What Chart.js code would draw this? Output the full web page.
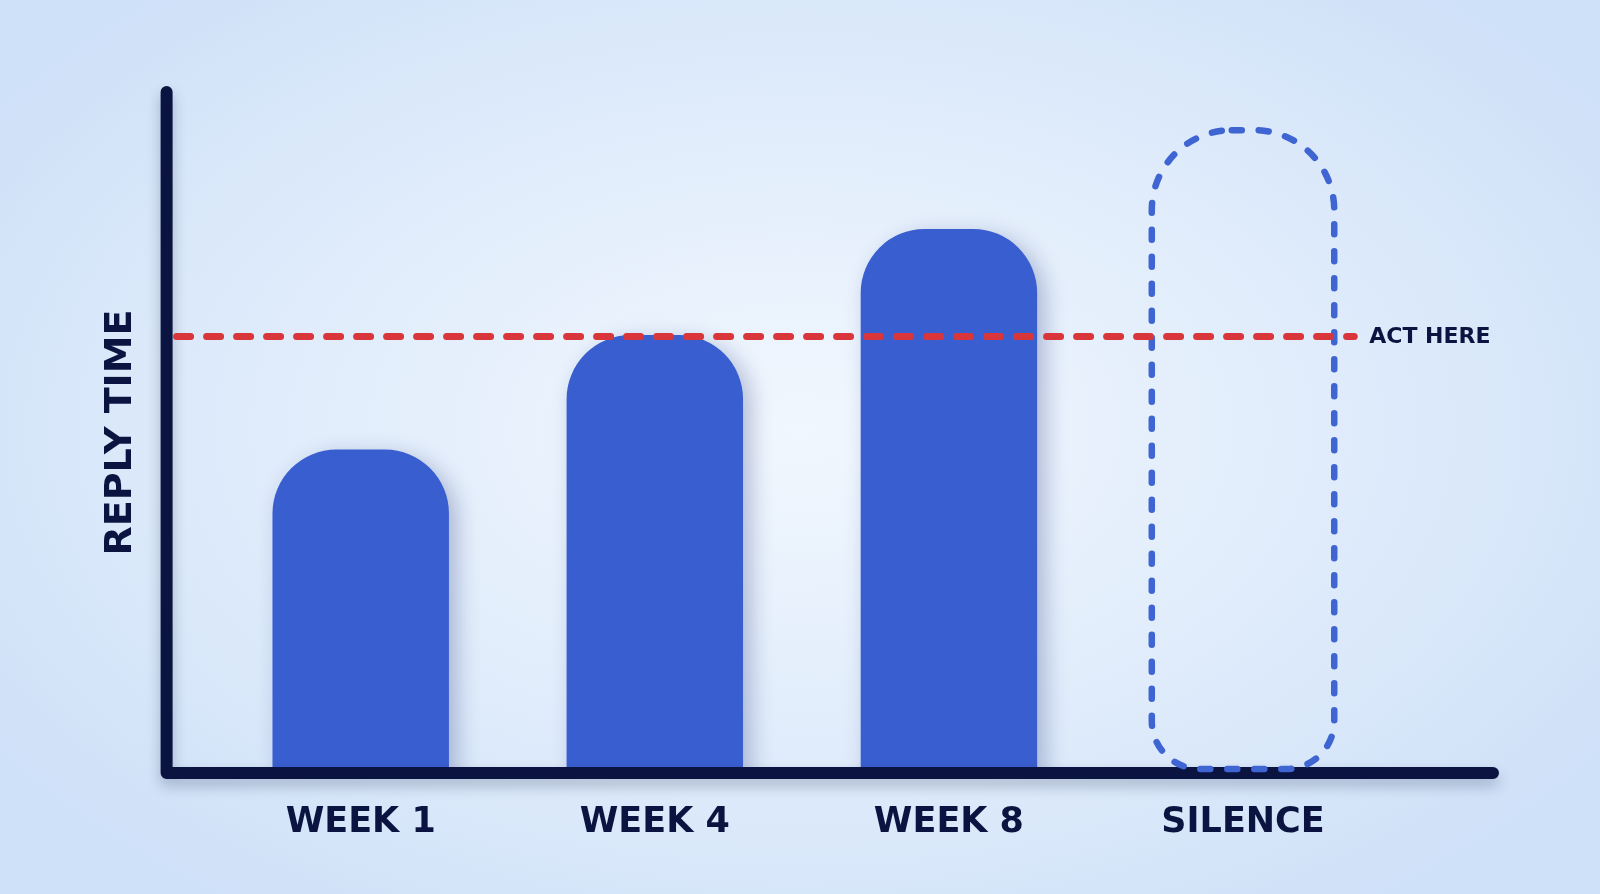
<!DOCTYPE html>
<html>
<head>
<meta charset="utf-8">
<script src="https://cdn.jsdelivr.net/npm/chart.js@4"></script>
<style>
  html, body { margin: 0; padding: 0; overflow: hidden; }
  body {
    width: 1600px; height: 894px;
    background: radial-gradient(ellipse 60% 65% at 50% 48%, #f1f7fe 0%, #e0ecfb 55%, #cfe1f8 100%);
  }
  #wrap { width: 1600px; height: 894px; }
</style>
</head>
<body>
<div id="wrap"><canvas id="chart"></canvas></div>
<script>
// categories and values (y: 0..100 relative reply time)
const CATEGORIES = ["WEEK 1", "WEEK 4", "WEEK 8", "SILENCE"];
const REPLY_TIME = [47.5, 64.3, 79.9, null];
const SILENCE_GHOST = [null, null, null, 94.4];
const ACT_THRESHOLD = 64.1;
const THRESHOLD_LABEL = "ACT HERE";
const Y_TITLE = "REPLY TIME";

const NAVY = "#0b1440";
const BAR_BLUE = "#395ecf";
const GHOST_BLUE = "#3f65d2";
const RED = "#d9363c";
const FONT = "'DejaVu Sans', sans-serif";

function toPoints(values) {
  return values.map((v, i) => ({ x: i + 1, y: v }));
}

function roundedPath(ctx, x, y, w, h, rTop, rBottom) {
  ctx.beginPath();
  ctx.moveTo(x + rTop, y);
  ctx.lineTo(x + w - rTop, y);
  ctx.arcTo(x + w, y, x + w, y + rTop, rTop);
  ctx.lineTo(x + w, y + h - rBottom);
  ctx.arcTo(x + w, y + h, x + w - rBottom, y + h, rBottom);
  ctx.lineTo(x + rBottom, y + h);
  ctx.arcTo(x, y + h, x, y + h - rBottom, rBottom);
  ctx.lineTo(x, y + rTop);
  ctx.arcTo(x, y, x + rTop, y, rTop);
  ctx.closePath();
}

// soft shadow under the solid bars
const barShadow = {
  id: "barShadow",
  beforeDatasetDraw(chart, args) {
    if (args.index !== 0) return;
    const ctx = chart.ctx;
    ctx.save();
    ctx.shadowColor = "rgba(20, 40, 110, 0.28)";
    ctx.shadowBlur = 22;
    ctx.shadowOffsetX = 8;
    ctx.shadowOffsetY = 6;
  },
  afterDatasetDraw(chart, args) {
    if (args.index !== 0) return;
    chart.ctx.restore();
  }
};

// axes, threshold line and the dashed "silence" outline
const overlays = {
  id: "overlays",
  afterDatasetsDraw(chart) {
    const { ctx, chartArea } = chart;
    const y = chart.scales.y;

    // axis lines
    ctx.save();
    ctx.strokeStyle = NAVY;
    ctx.lineWidth = 12;
    ctx.lineCap = "round";
    ctx.lineJoin = "round";
    ctx.shadowColor = "rgba(13, 22, 64, 0.25)";
    ctx.shadowBlur = 14;
    ctx.shadowOffsetY = 7;
    ctx.beginPath();
    ctx.moveTo(chartArea.left, chartArea.top);
    ctx.lineTo(chartArea.left, chartArea.bottom);
    ctx.lineTo(chartArea.right, chartArea.bottom);
    ctx.stroke();
    ctx.restore();

    // dashed outline for the silence bar
    const ghost = chart.getDatasetMeta(1).data.find((el, i) => SILENCE_GHOST[i] != null);
    let lineEnd = chartArea.right;
    if (ghost) {
      const w = ghost.width + 6;
      const left = ghost.x - w / 2;
      const top = ghost.y;
      const h = ghost.base - 4 - top;
      ctx.save();
      ctx.strokeStyle = GHOST_BLUE;
      ctx.lineWidth = 6.5;
      ctx.lineCap = "round";
      ctx.setLineDash([10, 17]);
      roundedPath(ctx, left, top, w, h, 80, 48);
      ctx.stroke();
      ctx.restore();
      lineEnd = left + w + 20;
    }

    // threshold line
    const ty = y.getPixelForValue(ACT_THRESHOLD);
    ctx.save();
    ctx.strokeStyle = RED;
    ctx.lineWidth = 7;
    ctx.lineCap = "round";
    ctx.setLineDash([14, 16]);
    ctx.beginPath();
    ctx.moveTo(chartArea.left + 10, ty);
    ctx.lineTo(lineEnd, ty);
    ctx.stroke();
    ctx.restore();

    ctx.save();
    ctx.fillStyle = NAVY;
    ctx.font = "bold 22px " + FONT;
    ctx.textAlign = "left";
    ctx.textBaseline = "middle";
    ctx.fillText(THRESHOLD_LABEL, lineEnd + 15, ty + 1);
    ctx.restore();
  }
};

new Chart(document.getElementById("chart"), {
  type: "bar",
  data: {
    datasets: [
      {
        label: "Reply time",
        data: toPoints(REPLY_TIME),
        backgroundColor: BAR_BLUE,
        borderWidth: 0,
        borderSkipped: "bottom",
        borderRadius: { topLeft: 64, topRight: 64, bottomLeft: 0, bottomRight: 0 },
        grouped: false,
        barPercentage: 0.6,
        categoryPercentage: 1
      },
      {
        label: "Silence",
        data: toPoints(SILENCE_GHOST),
        backgroundColor: "rgba(0,0,0,0)",
        borderWidth: 0,
        grouped: false,
        barPercentage: 0.6,
        categoryPercentage: 1
      }
    ]
  },
  options: {
    responsive: true,
    maintainAspectRatio: false,
    animation: false,
    layout: { padding: { left: 75, right: 107, top: 92, bottom: 21 } },
    plugins: {
      legend: { display: false },
      tooltip: { enabled: false }
    },
    scales: {
      x: {
        type: "linear",
        offset: false,
        min: 0.34,
        max: 4.85,
        afterBuildTicks: (axis) => {
          axis.ticks = CATEGORIES.map((_, i) => ({ value: i + 1 }));
        },
        grid: { display: false, drawTicks: false },
        border: { display: false },
        ticks: {
          autoSkip: false,
          maxRotation: 0,
          padding: 29,
          color: NAVY,
          font: { family: FONT, size: 35, weight: "bold" },
          callback: (v) => CATEGORIES[Math.round(v) - 1]
        }
      },
      y: {
        min: 0,
        max: 100,
        grid: { display: false, drawTicks: false },
        border: { display: false },
        ticks: { display: false },
        title: {
          display: true,
          text: Y_TITLE,
          color: NAVY,
          padding: 23,
          font: { family: FONT, size: 38, weight: "bold" }
        }
      }
    }
  },
  plugins: [barShadow, overlays]
});
</script>
</body>
</html>
